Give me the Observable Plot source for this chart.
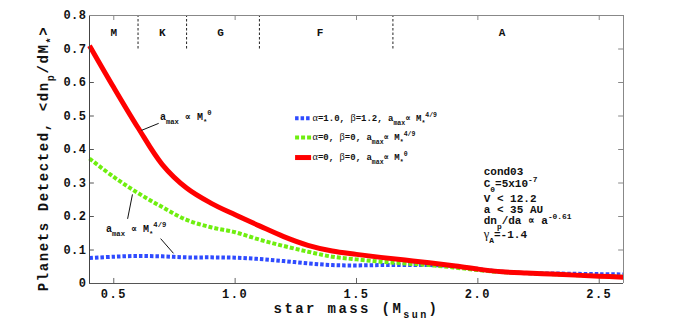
<!DOCTYPE html>
<html>
<head>
<meta charset="utf-8">
<script src="https://cdn.jsdelivr.net/npm/d3@7"></script>
<script src="https://cdn.jsdelivr.net/npm/@observablehq/plot@0.6"></script>
<style>
  html, body { margin: 0; padding: 0; background: #fff; }
  #chart svg { display: block; }
</style>
</head>
<body>
<div id="chart"></div>
<script>
// ---------- data ----------
const mass = [0.4,0.5,0.6,0.7,0.8,0.9,1.0,1.1,1.2,1.3,1.4,1.5,1.6,1.7,1.8,1.9,2.0,2.1,2.2,2.3,2.4,2.5,2.6];
const detBlue  = [0.076,0.080,0.082,0.081,0.078,0.078,0.077,0.073,0.067,0.060,0.055,0.054,0.055,0.055,0.055,0.052,0.043,0.035,0.031,0.030,0.029,0.028,0.027];
const detGreen = [0.373,0.318,0.270,0.228,0.190,0.168,0.153,0.131,0.112,0.095,0.080,0.072,0.065,0.060,0.055,0.048,0.040,0.034,0.031,0.028,0.025,0.022,0.020];
const detRed   = [0.710,0.585,0.465,0.355,0.285,0.240,0.205,0.172,0.140,0.114,0.097,0.087,0.078,0.070,0.062,0.053,0.043,0.035,0.031,0.028,0.025,0.022,0.019];
const seriesNames = [
  "α=1.0, β=1.2, a_{max}∝ M_{*}^{4/9}",
  "α=0, β=0, a_{max}∝ M_{*}^{4/9}",
  "α=0, β=0, a_{max}∝ M_{*}^{0}"
];
const spectralTypes = ["M","K","G","F","A"];
const spectralCenters = [0.5,0.7,0.94,1.35,2.1];
const spectralBounds = [0.6,0.8,1.1,1.65];
const xTicks = [0.5,1.0,1.5,2.0,2.5];
const yTicks = [0,0.1,0.2,0.3,0.4,0.5,0.6,0.7,0.8];
const infoLines = ["cond03","C_{0}=5x10^{-7}","V < 12.2","a < 35 AU","dn_{p}/da ∝ a^{-0.61}","γ_{A}=-1.4"];
const infoLineY = [0.333,0.298,0.254,0.221,0.188,0.146];
const annotations = [
  {x: 0.69, y: 0.498, text: "a_{max} ∝ M_{*}^{0}"},
  {x: 0.468, y: 0.164, text: "a_{max} ∝ M_{*}^{4/9}"}
];
const leaders = [
  {x1: 0.614, y1: 0.457, x2: 0.685, y2: 0.478},
  {x1: 0.577, y1: 0.266, x2: 0.557, y2: 0.193},
  {x1: 0.693, y1: 0.134, x2: 0.746, y2: 0.090}
];
const xTitle = "star mass (M_{sun})";
const yTitle = "Planets Detected, <dn_{p}/dM_{*}>";

// ---------- build ----------
const seriesValues = [detBlue, detGreen, detRed];
const rows = [];
seriesNames.forEach((name, i) => mass.forEach((m, j) => rows.push({series: name, mass: m, value: seriesValues[i][j]})));
const seriesColor = ["#2f4bff", "#6fee10", "#ff0000"];
const seriesDash = ["3.5,2", "4,2", null];
const seriesWidth = [4, 4, 5];
const legendX1 = 1.249, legendX2 = 1.315, legendYs = [0.493, 0.436, 0.376];

const mono = "'Liberation Mono', 'DejaVu Sans Mono', monospace";
const lineMarks = seriesNames.map((name, i) => Plot.line(rows.filter(r => r.series === name), {
  x: "mass", y: "value", stroke: seriesColor[i], strokeWidth: seriesWidth[i],
  strokeDasharray: seriesDash[i], curve: "catmull-rom", strokeLinecap: "butt"
}));
const legendMarks = seriesNames.map((name, i) => Plot.ruleY([name], {
  y: () => legendYs[i], x1: legendX1, x2: legendX2, stroke: seriesColor[i], strokeWidth: seriesWidth[i], strokeDasharray: seriesDash[i]
}));

const chart = Plot.plot({
  width: 689, height: 332,
  marginLeft: 89, marginRight: 66, marginTop: 15, marginBottom: 49,
  x: {domain: [0.4, 2.6]},
  y: {domain: [0, 0.8]},
  style: {fontFamily: mono, background: "#fff"},
  marks: [
    // ticks (inward, on all four sides)
    Plot.ruleX(xTicks, {x: d => d, y1: 0, y2: 0.015, stroke: "#666"}),
    Plot.ruleX(xTicks, {x: d => d, y1: 0.785, y2: 0.8, stroke: "#888"}),
    Plot.ruleY(yTicks, {y: d => d, x1: 0.4, x2: 0.42, stroke: "#555"}),
    Plot.ruleY(yTicks, {y: d => d, x1: 2.58, x2: 2.6, stroke: "#888"}),
    // spectral type boundaries
    Plot.ruleX(spectralBounds, {x: d => d, y1: 0.70, y2: 0.8, stroke: "#222", strokeDasharray: "2.5,2"}),
    Plot.text(spectralTypes, {x: (d, i) => spectralCenters[i], y: 0.749, text: d => d, fontSize: 11, fontWeight: "bold", fontFamily: mono, fill: "#111"}),
    // curves
    ...lineMarks,
    // legend
    ...legendMarks,
    Plot.text(seriesNames, {x: legendX2 + 0.004, y: (d, i) => legendYs[i], text: d => d, textAnchor: "start", fontSize: 9, fontWeight: "bold", fontFamily: mono, fill: "#111"}),
    // annotations
    Plot.link(leaders, {x1: "x1", y1: "y1", x2: "x2", y2: "y2", stroke: "#111", strokeWidth: 1}),
    Plot.text(annotations, {x: "x", y: "y", text: "text", textAnchor: "start", fontSize: 10, fontWeight: "bold", fontFamily: mono, fill: "#111"}),
    // parameter block
    Plot.text(infoLines, {x: 2.024, y: (d, i) => infoLineY[i], text: d => d, textAnchor: "start", fontSize: 11, fontWeight: "bold", fontFamily: mono, fill: "#111"}),
    // axes
    Plot.axisX(xTicks, {tickSize: 0, tickPadding: 6, tickFormat: d => d.toFixed(1), fontSize: 12, fontWeight: "bold", fontFamily: mono, fill: "#111", label: null}),
    Plot.axisY(yTicks, {tickSize: 0, tickPadding: 3, tickFormat: d => d === 0 ? "0" : d.toFixed(1), fontSize: 12, fontWeight: "bold", fontFamily: mono, fill: "#111", label: null}),
    Plot.text([xTitle], {frameAnchor: "bottom", dy: 29, text: d => d, fontSize: 14, fontWeight: "bold", fontFamily: mono, fill: "#111", className: "xtitle"}),
    Plot.text([yTitle], {frameAnchor: "left", dx: -46, dy: 9, rotate: -90, textAnchor: "middle", text: d => d, fontSize: 14, fontWeight: "bold", fontFamily: mono, fill: "#111", className: "ytitle"}),
    // frame
    Plot.ruleX([0.4], {stroke: "#444"}),
    Plot.ruleY([0], {stroke: "#555"}),
    Plot.ruleX([2.6], {stroke: "#888"}),
    Plot.ruleY([0.8], {stroke: "#888"})
  ]
});
document.getElementById("chart").appendChild(chart);

// ---------- rich text: _{sub}, ^{sup}, serif greek ----------
const svg = d3.select(chart);
svg.selectAll(".xtitle text").style("letter-spacing", "2.4px");
svg.selectAll(".ytitle text").style("letter-spacing", "1.6px");
svg.selectAll("[aria-label='y-axis tick label'] text").style("letter-spacing", "0.5px");
svg.selectAll("[aria-label='x-axis tick label'] text").style("letter-spacing", "1.5px");

function richify(el) {
  const s = el.textContent;
  if (!/[_^]\{|[α-ω]/.test(s)) return;
  const fs = parseFloat(getComputedStyle(el).fontSize) || 10;
  el.textContent = "";
  const re = /([_^])\{([^}]*)\}|([α-ω])|([^_^α-ω]+)/g;
  let m, cur = 0;
  while ((m = re.exec(s))) {
    const t = document.createElementNS("http://www.w3.org/2000/svg", "tspan");
    let target = 0;
    if (m[1]) {
      target = m[1] === "_" ? fs * 0.42 : -fs * 0.5;
      t.textContent = m[2];
      t.setAttribute("font-size", (fs * 0.72).toFixed(1));
    } else if (m[3]) {
      t.textContent = m[3];
      t.setAttribute("font-family", "'Liberation Serif', serif");
      t.setAttribute("font-weight", "normal");
      t.setAttribute("font-size", (fs * 1.15).toFixed(1));
    } else {
      t.textContent = m[4];
    }
    if (target !== cur) { t.setAttribute("dy", (target - cur).toFixed(1)); cur = target; }
    el.appendChild(t);
  }
}
svg.selectAll("text").each(function () { richify(this); });
</script>
</body>
</html>
